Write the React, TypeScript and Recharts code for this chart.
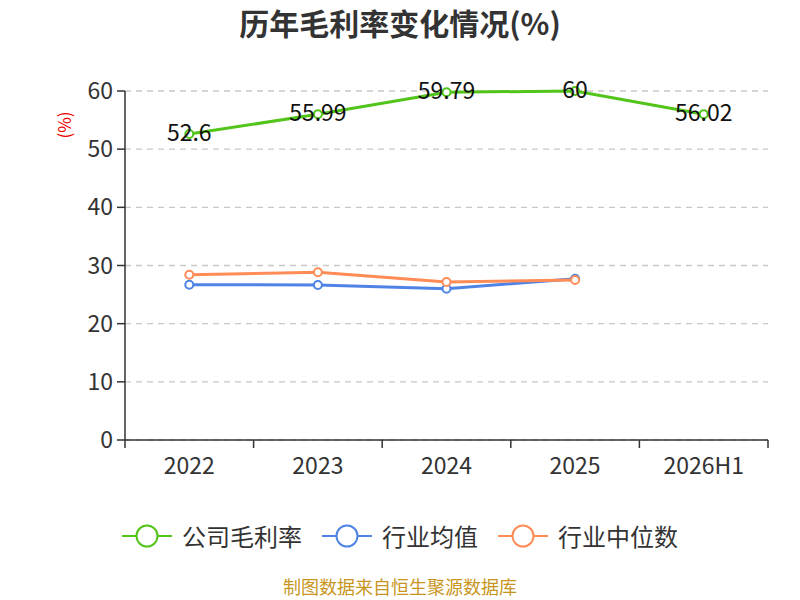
import { LineChart, Line, XAxis, YAxis, CartesianGrid, LabelList } from "recharts";

const years = ["2022", "2023", "2024", "2025", "2026H1"];
const companyMargin = [52.6, 55.99, 59.79, 60, 56.02];
const industryMean = [26.7, 26.65, 26.0, 27.73, null];
const industryMedian = [28.42, 28.83, 27.16, 27.5, null];
const yTicks = [0, 10, 20, 30, 40, 50, 60];

const SERIES = [
  { key: "company", name: "公司毛利率", color: "#52C41A", values: companyMargin, labels: true },
  { key: "mean", name: "行业均值", color: "#4F84E6", values: industryMean, labels: false },
  { key: "median", name: "行业中位数", color: "#FF8C57", values: industryMedian, labels: false },
];

const data = years.map((year, i) => ({
  year,
  company: companyMargin[i],
  mean: industryMean[i],
  median: industryMedian[i],
}));

const FONT = '"Noto Sans CJK SC", "Noto Sans", sans-serif';

const PLOT_LEFT = 125;
const PLOT_RIGHT = 768;
const BAND = (PLOT_RIGHT - PLOT_LEFT) / years.length;

function XTick(props: any) {
  const { x, y, payload, index } = props;
  const left = x - BAND / 2;
  return (
    <g>
      <line x1={left} y1={y - 8} x2={left} y2={y} stroke="#333" strokeWidth={1.5} />
      {index === years.length - 1 && (
        <line x1={left + BAND} y1={y - 8} x2={left + BAND} y2={y} stroke="#333" strokeWidth={1.5} />
      )}
      <text x={x} y={y + 26} textAnchor="middle" fontSize={23} fill="#333" fontFamily={FONT}>
        {payload.value}
      </text>
    </g>
  );
}

function PointLabel(props: any) {
  const { x, y, value } = props;
  if (value == null) return null;
  return (
    <text x={x} y={y - 3} textAnchor="middle" dominantBaseline="central" fontSize={23} fill="#111" fontFamily={FONT}>
      {value}
    </text>
  );
}

function LegendIcon({ color }: { color: string }) {
  return (
    <svg width={50} height={26} style={{ marginRight: 10 }}>
      <line x1={0} y1={13} x2={50} y2={13} stroke={color} strokeWidth={2} />
      <circle cx={25} cy={13} r={10.5} fill="#fff" stroke={color} strokeWidth={2} />
    </svg>
  );
}

export default function App() {
  return (
    <div style={{ position: "absolute", left: 0, top: 0, width: 800, height: 600, background: "#fff", fontFamily: FONT, overflow: "hidden" }}>
      <div style={{ position: "absolute", top: 0, width: 800, textAlign: "center", fontSize: 30, fontWeight: "bold", color: "#333", lineHeight: "44px" }}>
        历年毛利率变化情况(%)
      </div>
      <div
        style={{
          position: "absolute",
          left: 44,
          top: 114,
          width: 40,
          lineHeight: "22px",
          fontSize: 17,
          color: "#e00",
          transform: "rotate(-90deg)",
          textAlign: "center",
        }}
      >
        (%)
      </div>
      <LineChart width={800} height={600} data={data} margin={{ top: 91, right: 800 - PLOT_RIGHT, bottom: 120, left: 0 }}>
        <CartesianGrid vertical={false} stroke="#c8c8c8" strokeDasharray="6 5" strokeWidth={1.3} />
        <XAxis
          dataKey="year"
          height={40}
          padding={{ left: BAND / 2, right: BAND / 2 }}
          axisLine={{ stroke: "#333", strokeWidth: 1.5 }}
          tickLine={false}
          tick={<XTick />}
          interval={0}
        />
        <YAxis
          width={PLOT_LEFT}
          domain={[0, 60]}
          ticks={yTicks}
          axisLine={{ stroke: "#333", strokeWidth: 1.5 }}
          tickLine={{ stroke: "#333", strokeWidth: 1.5 }}
          tickSize={8}
          tickMargin={4}
          tick={{ fontSize: 23, fill: "#333", fontFamily: FONT }}
        />
        {SERIES.map((s) => (
          <Line
            key={s.key}
            dataKey={s.key}
            name={s.name}
            stroke={s.color}
            strokeWidth={3}
            dot={{ r: 4, fill: "#fff", stroke: s.color, strokeWidth: 2 }}
            isAnimationActive={false}
            connectNulls={false}
          >
            {s.labels && <LabelList dataKey={s.key} content={<PointLabel />} />}
          </Line>
        ))}
      </LineChart>
      <div style={{ position: "absolute", top: 520, left: 0, width: 800, display: "flex", justifyContent: "center", alignItems: "center" }}>
        {SERIES.map((s, i) => (
          <div key={s.key} style={{ display: "flex", alignItems: "center", marginLeft: i === 0 ? 0 : 20 }}>
            <LegendIcon color={s.color} />
            <span style={{ fontSize: 24, color: "#333", lineHeight: "32px" }}>{s.name}</span>
          </div>
        ))}
      </div>
      <div style={{ position: "absolute", top: 575, width: 800, textAlign: "center", fontSize: 18, color: "#C8961E", lineHeight: "22px" }}>
        制图数据来自恒生聚源数据库
      </div>
    </div>
  );
}
